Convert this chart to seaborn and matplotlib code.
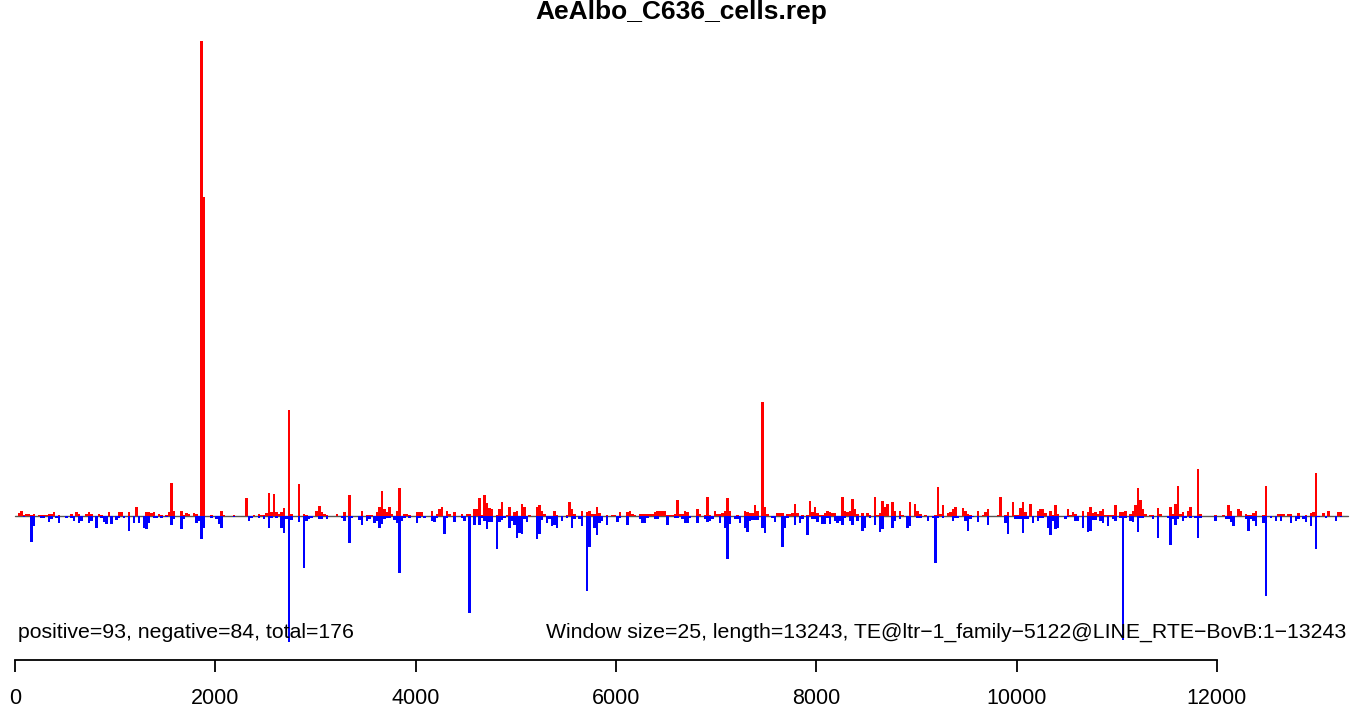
import numpy as np
import matplotlib
matplotlib.use("Agg")
import matplotlib.pyplot as plt
import seaborn as sns

# sequence / window setup
seq_length = 13243
window_size = 25
n_windows = 530

title = "AeAlbo_C636_cells.rep"
left_note = "positive=93, negative=84, total=176"
right_note = "Window size=25, length=13243, TE@ltr\u22121_family\u22125122@LINE_RTE\u2212BovB:1\u221213243"
tick_values = [0, 2000, 4000, 6000, 8000, 10000, 12000]

# sense strand (red, above the line): window index -> height
pos_windows = [
    1, 2, 3, 4, 5, 6, 7, 9, 10, 11, 12, 13, 14, 15, 17, 22, 24, 25, 28, 29, 30, 33, 34, 37, 41, 42, 45, 48,
    52, 53, 54, 55, 57, 58, 60, 61, 62, 63, 66, 67, 68, 69, 71, 72, 74, 75, 78, 82, 83, 87, 92, 95, 97, 98,
    99, 100, 101, 102, 103, 104, 105, 106, 107, 109, 110, 113, 115, 116, 120, 121, 122, 123, 124, 128, 131,
    133, 138, 140, 141, 142, 144, 145, 146, 147, 148, 149, 150, 152, 153, 155, 156, 157, 160, 161, 162, 166,
    168, 169, 170, 172, 173, 175, 178, 180, 181, 183, 184, 185, 186, 187, 188, 189, 190, 192, 193, 194, 196,
    197, 199, 200, 202, 203, 205, 208, 209, 210, 211, 215, 216, 220, 221, 222, 223, 226, 228, 229, 230, 231,
    232, 233, 236, 238, 239, 241, 244, 245, 246, 247, 249, 250, 251, 252, 253, 254, 255, 256, 257, 258, 259,
    260, 261, 262, 263, 264, 265, 266, 267, 268, 272, 273, 275, 276, 277, 279, 280, 281, 282, 283, 284, 285,
    288, 291, 292, 293, 294, 295, 296, 298, 299, 300, 304, 305, 306, 308, 309, 310, 311, 312, 314, 316, 317,
    318, 319, 320, 321, 322, 323, 324, 325, 326, 327, 330, 331, 332, 333, 334, 335, 336, 338, 340, 341, 343,
    344, 345, 346, 347, 348, 350, 351, 353, 354, 357, 359, 360, 361, 363, 367, 368, 369, 370, 372, 373, 374,
    375, 378, 379, 380, 381, 384, 386, 387, 388, 392, 393, 395, 396, 398, 399, 400, 401, 402, 403, 405, 408,
    409, 410, 411, 413, 414, 415, 416, 420, 421, 422, 423, 426, 428, 429, 430, 431, 432, 433, 434, 435, 436,
    437, 438, 439, 441, 442, 443, 445, 446, 447, 448, 449, 450, 451, 453, 454, 456, 457, 461, 462, 463, 464,
    465, 466, 468, 469, 472, 473, 479, 482, 484, 485, 488, 489, 491, 492, 493, 494, 495, 498, 499, 504, 505,
    506, 508, 509, 512, 515, 517, 518, 519, 522, 524, 528, 529,
]
pos_heights = [
    8, 15, 4, 6, 6, 3, 6, 3, 3, 3, 3, 6, 6, 11, 3, 6, 11, 6, 6, 11, 6, 6, 3, 11, 11, 11, 11, 26,
    12, 12, 8, 12, 6, 3, 4, 12, 100, 15, 15, 3, 8, 6, 8, 6, 1425, 957, 4, 15, 3, 3, 55, 4, 6, 4,
    3, 8, 68, 12, 66, 12, 6, 12, 25, 318, 5, 96, 6, 4, 15, 30, 12, 6, 3, 6, 12,
    62, 15, 4, 4, 4, 12, 27, 75, 22, 12, 28, 6, 15, 84, 6, 6, 3, 12, 12, 12, 15,
    6, 20, 27, 15, 5, 12, 6, 6, 6, 20, 20, 55, 3, 63, 38, 25, 22, 3, 20, 42, 3,
    27, 12, 15, 36, 28, 3, 27, 33, 15, 6, 15, 3, 3, 42, 22, 6, 15, 12, 15, 6, 6,
    27, 8, 3, 3, 3, 12, 12, 15, 6, 3, 6, 6, 6, 6, 6, 6, 12, 15, 15, 15, 15,
    3, 3, 3, 6, 47, 6, 6, 15, 12, 22, 5, 4, 57, 3, 15, 5, 5, 8, 15, 54, 15,
    4, 15, 12, 8, 8, 33, 15, 342, 27, 6, 8, 8, 8, 5, 5, 8, 36, 8, 4, 4, 45,
    12, 27, 8, 4, 4, 8, 15, 12, 8, 8, 57, 15, 12, 15, 50, 20, 6, 8, 8, 4, 57,
    4, 8, 46, 27, 36, 42, 15, 15, 4, 42, 36, 15, 5, 4, 4, 88, 5, 33, 8, 12, 20,
    27, 25, 15, 6, 4, 15, 4, 12, 22, 4, 57, 4, 12, 42, 4, 4, 25, 42, 12, 36, 15,
    22, 22, 8, 15, 4, 33, 6, 22, 4, 12, 6, 15, 12, 27, 8, 12, 6, 15, 20, 3, 3,
    3, 3, 33, 12, 12, 15, 6, 15, 33, 84, 48, 22, 6, 3, 3, 25, 6, 27, 6, 36, 90,
    6, 12, 15, 27, 142, 6, 3, 4, 33, 15, 22, 15, 6, 4, 4, 8, 15, 4, 90, 6, 6,
    6, 6, 6, 8, 4, 8, 12, 130, 8, 15, 12, 12,
]

# antisense strand (blue, below the line): window index -> depth
neg_windows = [
    3, 6, 7, 10, 11, 13, 14, 16, 17, 20, 22, 23, 25, 26, 29, 30, 32, 34, 35, 36, 38, 40, 41, 43, 45, 47, 49,
    51, 52, 53, 55, 56, 58, 60, 62, 63, 66, 67, 72, 73, 74, 75, 78, 80, 81, 82, 87, 93, 94, 97, 99, 101, 102,
    104, 106, 107, 108, 109, 110, 113, 115, 116, 117, 118, 121, 122, 124, 130, 131, 133, 134, 137, 138, 140,
    141, 143, 144, 145, 146, 147, 148, 149, 151, 152, 153, 154, 155, 157, 160, 161, 163, 166, 167, 168, 171,
    172, 175, 178, 179, 181, 183, 185, 186, 187, 188, 189, 190, 192, 193, 194, 195, 197, 198, 199, 200, 201,
    202, 203, 204, 208, 209, 210, 212, 213, 214, 215, 216, 218, 220, 222, 223, 225, 226, 228, 229, 231, 232,
    233, 234, 236, 240, 241, 244, 249, 250, 251, 252, 255, 256, 260, 263, 264, 266, 267, 268, 269, 272, 275,
    276, 277, 278, 281, 283, 284, 285, 287, 288, 289, 291, 292, 293, 294, 295, 296, 298, 299, 302, 303, 306,
    307, 308, 311, 313, 314, 316, 318, 319, 320, 322, 323, 324, 325, 327, 328, 329, 330, 331, 333, 334, 336,
    338, 339, 341, 343, 345, 346, 350, 351, 353, 356, 357, 360, 361, 364, 366, 367, 368, 370, 374, 375, 376,
    379, 380, 381, 382, 384, 388, 395, 396, 399, 400, 401, 402, 403, 404, 406, 408, 409, 410, 412, 413, 414,
    415, 416, 419, 420, 423, 424, 426, 428, 429, 430, 431, 433, 434, 436, 438, 439, 441, 442, 443, 445, 446,
    448, 449, 450, 454, 456, 460, 461, 462, 463, 464, 466, 467, 469, 471, 472, 473, 479, 483, 484, 485, 486,
    491, 492, 493, 494, 495, 498, 499, 501, 503, 505, 509, 511, 512, 514, 515, 517, 519, 520, 523, 527, 529,
]
neg_depths = [
    4, 77, 29, 7, 7, 17, 10, 7, 22, 5, 7, 14, 22, 14, 22, 14, 37, 7, 17, 25, 25, 12, 7, 7, 44, 22, 22,
    37, 38, 22, 5, 5, 7, 3, 26, 8, 38, 8, 22, 14, 70, 35, 5, 8, 25, 37, 4, 14, 5, 6, 8, 35, 6,
    5, 35, 50, 10, 378, 12, 18, 155, 15, 8, 5, 8, 8, 8, 5, 15, 80, 5, 12, 27, 15,
    8, 22, 15, 35, 25, 8, 5, 5, 12, 22, 172, 15, 5, 5, 22, 5, 6, 14, 17, 5, 55,
    5, 17, 6, 15, 290, 26, 26, 5, 15, 38, 17, 17, 100, 17, 12, 5, 35, 15, 27, 65, 50,
    55, 8, 17, 68, 55, 12, 22, 8, 30, 28, 35, 15, 5, 37, 8, 8, 30, 225, 92, 37, 57,
    20, 15, 27, 17, 6, 27, 8, 22, 22, 5, 8, 8, 27, 5, 5, 8, 22, 20, 5, 22, 8,
    17, 15, 8, 22, 37, 128, 25, 8, 8, 22, 35, 47, 15, 12, 12, 12, 35, 50, 5, 17, 92,
    35, 5, 27, 22, 8, 57, 8, 8, 17, 25, 25, 5, 25, 15, 22, 15, 28, 5, 15, 27, 15,
    45, 35, 5, 27, 48, 40, 35, 15, 8, 37, 30, 5, 5, 15, 5, 140, 5, 5, 15, 5, 5,
    15, 45, 8, 4, 17, 27, 22, 55, 8, 8, 8, 50, 8, 8, 22, 15, 5, 5, 37, 58, 15,
    38, 35, 8, 4, 15, 15, 37, 47, 45, 12, 12, 15, 22, 30, 8, 15, 5, 372, 5, 15, 17,
    48, 5, 5, 8, 65, 5, 87, 8, 27, 8, 15, 5, 5, 5, 65, 5, 15, 8, 8, 17, 30,
    8, 45, 8, 15, 30, 22, 240, 5, 15, 15, 22, 15, 8, 8, 17, 30, 100, 4, 5, 15, 4,
]

# build full per-window arrays (zero where nothing was mapped)
centers = np.arange(n_windows) * window_size + window_size / 2
positive = np.zeros(n_windows)
positive[pos_windows] = pos_heights
negative = np.zeros(n_windows)
negative[neg_windows] = neg_depths

W, H = 1363, 713
sns.set_style("white")
plt.rcParams["font.family"] = ["Liberation Sans", "DejaVu Sans"]
plt.rcParams["text.color"] = "black"
fig = plt.figure(figsize=(W / 100, H / 100), dpi=100)

# axes fill the whole width; x=0 sits 15 px in, axis line at y=660 px
ax = fig.add_axes([0, (H - 660) / H, 1, (660 - 36) / H])

sns.barplot(x=centers, y=positive, native_scale=True, orient="x", width=1.0,
            color="red", saturation=1, errorbar=None, linewidth=0, ax=ax)
sns.barplot(x=centers, y=-negative, native_scale=True, orient="x", width=1.0,
            color="blue", saturation=1, errorbar=None, linewidth=0, ax=ax)

# zero line across the sequence
ax.plot([0, seq_length + 60], [0, 0], color="#555555", lw=1, zorder=0)

px_per_bp = 1202 / 12000
ax.set_xlim(-15 / px_per_bp, (W - 15) / px_per_bp)
ax.set_ylim(-(660 - 516) * 3, (516 - 36) * 3)

ax.set_xticks(tick_values)
ax.set_xticklabels([str(t) for t in tick_values])
ax.set_yticks([])
ax.set_xlabel("")
ax.set_ylabel("")
for side in ["top", "left", "right"]:
    ax.spines[side].set_visible(False)
ax.spines["bottom"].set_bounds(0, 12000)
ax.spines["bottom"].set_linewidth(1.3)
ax.spines["bottom"].set_color("black")
ax.tick_params(axis="x", bottom=True, direction="out", length=8.5, width=1.3, pad=12,
               labelsize=15.5, colors="black", labelcolor="black")

fig.text(0.5, 1 - 12 / H, title, ha="center", va="center", fontsize=19,
         fontweight="bold", color="black")
fig.text(18 / W, 1 - 632 / H, left_note, ha="left", va="center", fontsize=15.3, color="black")
fig.text(1346 / W, 1 - 632 / H, right_note, ha="right", va="center", fontsize=15.3, color="black")

fig.savefig("out.png", dpi=100)
plt.close(fig)
